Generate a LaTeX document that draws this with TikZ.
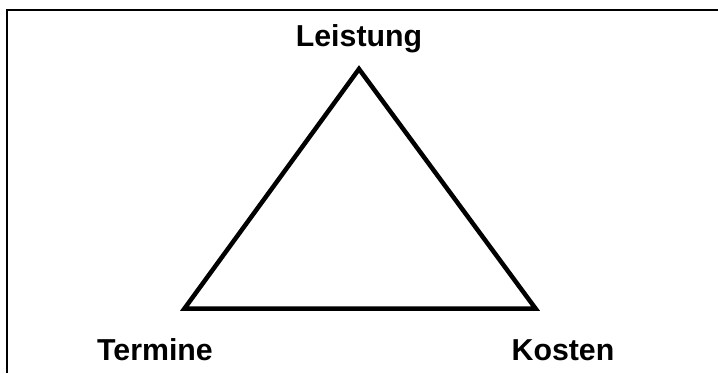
\documentclass[tikz,border=0pt]{standalone}
\usepackage{fontspec}
\setmainfont{Liberation Sans}
\begin{document}
\begin{tikzpicture}[x=1pt,y=-1pt,
  lbl/.style={font=\fontsize{30.3}{33}\selectfont\bfseries, inner sep=0pt, anchor=base},
  tri/.style={line width=4.5pt, line join=miter},
  frame/.style={line width=2pt}]
\useasboundingbox (0,0) rectangle (718,373);
\coordinate (fl) at (7,373);
\coordinate (ftl) at (7,10);
\coordinate (ftr) at (718,10);
\draw[frame] (fl) -- (ftl) -- (ftr);
\coordinate (A) at (359,69);
\coordinate (B) at (184.5,308.5);
\coordinate (C) at (535.5,308.5);
\draw[tri] (A) -- (B) -- (C) -- cycle;
\node[lbl] (leistung) at (359,46) {Leistung};
\node[lbl] (termine) at (155,360) {Termine};
\node[lbl] (kosten) at (563,360) {Kosten};
\end{tikzpicture}
\end{document}
